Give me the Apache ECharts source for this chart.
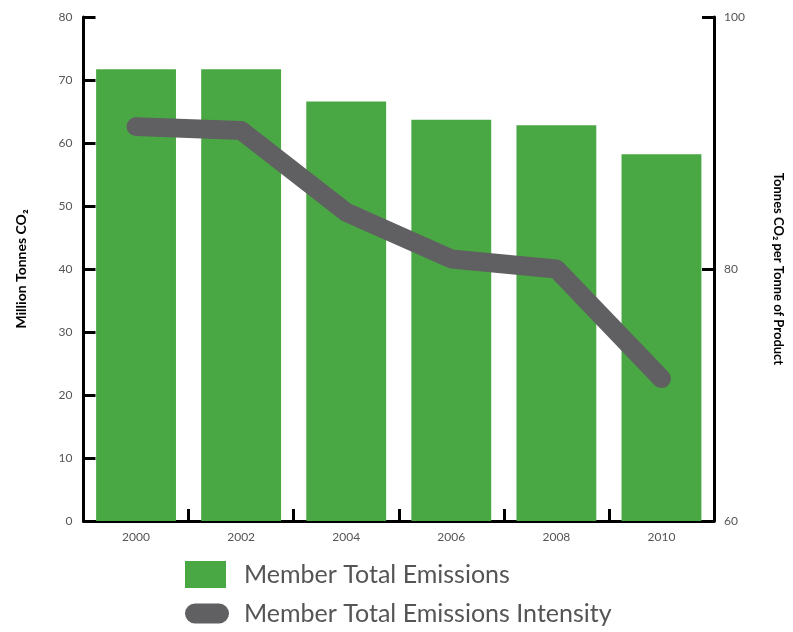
<!DOCTYPE html>
<html>
<head>
<meta charset="utf-8">
<script src="https://cdn.jsdelivr.net/npm/echarts@6/dist/echarts.min.js"></script>
<style>
  html, body { margin: 0; padding: 0; background: #fff; }
  #chart { width: 793px; height: 632px; }
</style>
</head>
<body>
<div id="chart"></div>
<script>
// Member emissions by year: total (bars, left axis) and intensity (line, right axis)
const years = ['2000', '2002', '2004', '2006', '2008', '2010'];
const totalEmissions = [71.7, 71.7, 66.6, 63.7, 62.8, 58.2];
const emissionsIntensity = [91.3, 91.0, 84.5, 80.8, 80.0, 71.3];

const seriesNames = ['Member Total Emissions', 'Member Total Emissions Intensity'];
const leftAxisName = 'Million Tonnes CO₂';
const rightAxisName = 'Tonnes CO₂ per Tonne of Product';

const GREEN = '#4aa844';
const GREY = '#606062';
const AXIS = '#000';
const LABEL = '#555';
const FONT = 'Lato, "DejaVu Sans", sans-serif';

const chart = echarts.init(document.getElementById('chart'), null, { renderer: 'canvas' });

const axisCommon = {
  axisLine: { show: true, lineStyle: { color: AXIS, width: 3 } },
  axisTick: { show: true, inside: true, length: 12, lineStyle: { color: AXIS, width: 3 } },
  splitLine: { show: false },
  axisLabel: { color: LABEL, fontSize: 12, fontFamily: FONT }
};

chart.setOption({
  animation: false,
  backgroundColor: '#fff',
  grid: { left: 83.5, right: 75, top: 17, bottom: 111, containLabel: false },
  legend: [
    {
      data: [{ name: seriesNames[0], icon: 'rect' }],
      left: 185, top: 561, padding: 0,
      itemWidth: 41, itemHeight: 27,
      selectedMode: false,
      textStyle: { color: '#555', fontSize: 25, fontFamily: FONT, padding: [0, 0, 0, 13] }
    },
    {
      data: [{ name: seriesNames[1], icon: 'path://M10,0 H34 A10,10 0 0 1 34,20 H10 A10,10 0 0 1 10,0 Z' }],
      left: 185, top: 601, padding: 0,
      itemWidth: 44, itemHeight: 20,
      selectedMode: false,
      textStyle: { color: '#555', fontSize: 25, fontFamily: FONT, padding: [0, 0, 0, 10] }
    }
  ],
  xAxis: {
    type: 'category',
    data: years,
    boundaryGap: true,
    ...axisCommon,
    axisTick: { show: true, inside: true, alignWithLabel: false, length: 12, lineStyle: { color: AXIS, width: 3 } },
    axisLabel: { color: LABEL, fontSize: 12, fontFamily: FONT, margin: 10 }
  },
  yAxis: [
    {
      type: 'value', position: 'left',
      min: 0, max: 80, interval: 10,
      ...axisCommon,
      axisLabel: { color: LABEL, fontSize: 12, fontFamily: FONT, margin: 11 },
      name: leftAxisName,
      nameLocation: 'middle',
      nameGap: 55,
      nameTextStyle: { color: '#000', fontSize: 14, fontWeight: 'bold', fontFamily: FONT }
    },
    {
      type: 'value', position: 'right',
      min: 60, max: 100, interval: 20,
      ...axisCommon,
      axisLabel: { color: LABEL, fontSize: 12, fontFamily: FONT, margin: 10 },
      name: rightAxisName,
      nameLocation: 'middle',
      nameRotate: -90,
      nameGap: 58,
      nameTextStyle: { color: '#000', fontSize: 13, fontWeight: 'bold', fontFamily: FONT }
    }
  ],
  series: [
    {
      name: seriesNames[0],
      type: 'bar',
      yAxisIndex: 0,
      data: totalEmissions,
      barCategoryGap: '24%',
      itemStyle: { color: GREEN },
      z: 1
    },
    {
      name: seriesNames[1],
      type: 'line',
      yAxisIndex: 1,
      data: emissionsIntensity,
      symbol: 'none',
      itemStyle: { color: GREY },
      lineStyle: { color: GREY, width: 19, cap: 'round', join: 'round' },
      z: 3
    }
  ]
});
</script>
</body>
</html>
